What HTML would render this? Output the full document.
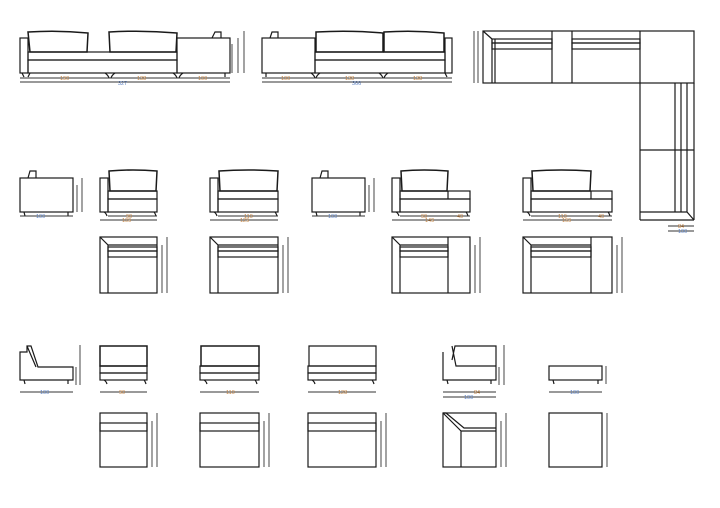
<!DOCTYPE html>
<html><head><meta charset="utf-8"><style>
html,body{margin:0;padding:0;background:#fff;width:720px;height:508px;overflow:hidden}
svg{display:block}
text{font-family:"Liberation Sans",sans-serif;font-size:5.5px;fill:#c08040}
.b{fill:#5a7fc0}
</style></head><body>
<svg width="720" height="508" viewBox="0 0 720 508" xmlns="http://www.w3.org/2000/svg">
<g fill="none" stroke="#1a1a1a" stroke-width="1.2">
<!-- TOP ROW 1 -->
<rect x="20" y="38" width="8" height="35"/>
<path d="M28 32 Q58 30 88 33 L87 52 L30 52 Z" stroke-width="1.5"/>
<rect x="28" y="52" width="149" height="8"/>
<rect x="28" y="60" width="149" height="13"/>
<path d="M109 32 Q143 30 177 33 L176 52 L110 52 Z" stroke-width="1.5"/>
<rect x="177" y="38" width="53" height="35"/>
<path d="M212 38 L215 32 L221 32 L221 38"/>
<path d="M22 73 l2 4 M30 73 l-2 4 M105 73 q3 2 4 5 M115 73 q-3 2 -4 5 M173 73 q3 2 4 5 M183 73 q-3 2 -4 5 M225 73 l0 4"/>
<!-- TOP ROW 2 -->
<rect x="262" y="38" width="53" height="35"/>
<path d="M270 38 L272 32 L278 32 L278 38"/>
<path d="M316 32 Q350 30 383 33 L383 52 L316 52 Z" stroke-width="1.5"/>
<path d="M384 32 Q414 30 444 33 L444 52 L384 52 Z" stroke-width="1.5"/>
<rect x="315" y="52" width="130" height="8"/>
<rect x="315" y="60" width="130" height="13"/>
<rect x="445" y="38" width="7" height="35"/>
<path d="M266 73 l0 4 M311 73 q3 2 4 5 M320 73 q-3 2 -4 5 M379 73 q3 2 4 5 M388 73 q-3 2 -4 5 M445 73 l2 4"/>
<!-- CORNER PLAN -->
<rect x="483" y="31" width="211" height="52"/>
<path d="M552 31 V83 M572 31 V83 M640 31 V220 M694 83 V220 M640 220 H694 M483 31 l9 8 M492 39 V83 M495 39 V83"/>
<rect x="492" y="39" width="60" height="4"/>
<rect x="492" y="43" width="60" height="6"/>
<rect x="572" y="39" width="68" height="4"/>
<rect x="572" y="43" width="68" height="6"/>
<path d="M640 150 H694 M675 83 V212 M681 83 V212 M687 83 V212 M640 212 H687 L694 220"/>
<!-- MID ROW SIDE VIEWS -->
<rect x="20" y="178" width="53" height="34"/>
<path d="M28 178 L30 171 L36 171 L36 178 M24 212 l1 4 M68 212 l0 4"/>
<rect x="312" y="178" width="53" height="34"/>
<path d="M320 178 L322 171 L328 171 L328 178 M316 212 l1 4 M360 212 l0 4"/>
<rect x="100" y="178" width="8" height="34"/>
<path d="M109 171 Q133 169 157 171 L156 191 L110 191 Z" stroke-width="1.5"/>
<rect x="108" y="191" width="49" height="8"/><rect x="108" y="199" width="49" height="13"/>
<path d="M104 212 q2 1 3 4 M154 212 q1 1 2 4"/>
<rect x="210" y="178" width="8" height="34"/>
<path d="M219 171 Q248 169 278 171 L277 191 L220 191 Z" stroke-width="1.5"/>
<rect x="218" y="191" width="60" height="8"/><rect x="218" y="199" width="60" height="13"/>
<path d="M214 212 q2 1 3 4 M275 212 q1 1 2 4"/>
<rect x="392" y="178" width="8" height="34"/>
<path d="M401 171 Q424 169 448 171 L447 191 L402 191 Z" stroke-width="1.5"/>
<rect x="400" y="191" width="70" height="8"/><rect x="400" y="199" width="70" height="13"/>
<path d="M448 191 V199 M396 212 q2 1 3 4 M466 212 q1 1 2 4"/>
<rect x="523" y="178" width="8" height="34"/>
<path d="M532 171 Q561 169 591 171 L590 191 L533 191 Z" stroke-width="1.5"/>
<rect x="531" y="191" width="81" height="8"/><rect x="531" y="199" width="81" height="13"/>
<path d="M591 191 V199 M527 212 q2 1 3 4 M608 212 q1 1 2 4"/>
<!-- MID PLANS -->
<rect x="100" y="237" width="57" height="56"/><path d="M100 237 l8 8 V293 M108 245 H157"/><rect x="108" y="247" width="49" height="4"/><rect x="108" y="251" width="49" height="6"/>
<rect x="210" y="237" width="68" height="56"/><path d="M210 237 l8 8 V293 M218 245 H278"/><rect x="218" y="247" width="60" height="4"/><rect x="218" y="251" width="60" height="6"/>
<rect x="392" y="237" width="78" height="56"/><path d="M392 237 l8 8 V293 M400 245 H448 M448 237 V293"/><rect x="400" y="247" width="48" height="4"/><rect x="400" y="251" width="48" height="6"/>
<rect x="523" y="237" width="89" height="56"/><path d="M523 237 l8 8 V293 M531 245 H591 M591 237 V293"/><rect x="531" y="247" width="60" height="4"/><rect x="531" y="251" width="60" height="6"/>
<!-- BOTTOM ROW -->
<path d="M20 352 V380 H73 V367 H38 L31 346 L27 346 L27 352 Z M27 346 L36 367 M24 380 l1 4 M68 380 l0 4"/>
<path d="M100 346 H147 V366 H100 Z" stroke-width="1.5"/><rect x="100" y="366" width="47" height="7"/><rect x="100" y="373" width="47" height="7"/><path d="M104 380 q2 1 3 4 M144 380 q1 1 2 4"/>
<path d="M201 346 H259 V366 H201 Z" stroke-width="1.5"/><rect x="200" y="366" width="59" height="7"/><rect x="200" y="373" width="59" height="7"/><path d="M204 380 q2 1 3 4 M255 380 q1 1 2 4"/>
<path d="M309 346 H376 V366 H309 Z"/><rect x="308" y="366" width="68" height="7"/><rect x="308" y="373" width="68" height="7"/><path d="M312 380 q2 1 3 4 M372 380 q1 1 2 4"/>
<path d="M443 352 V380 H496 V346 H455 L452 360 M452 346 L456 366 H496 M447 380 l1 4 M491 380 l0 4"/>
<rect x="549" y="366" width="53" height="14"/><path d="M553 380 l1 4 M598 380 l0 4"/>
<!-- BOTTOM PLANS -->
<rect x="100" y="413" width="47" height="54"/><rect x="100" y="423" width="47" height="8"/>
<rect x="200" y="413" width="59" height="54"/><rect x="200" y="423" width="59" height="8"/>
<rect x="308" y="413" width="68" height="54"/><rect x="308" y="423" width="68" height="8"/>
<rect x="443" y="413" width="53" height="54"/><path d="M443 413 L461 431 V467 M461 431 H496 M443 413 l3 0 L464 428 H496"/>
<rect x="549" y="413" width="53" height="54"/>
</g>
<!-- DIMENSION LINES -->
<g stroke="#333" stroke-width="0.9">
<path d="M20 78 H230 M20 82 H230 M232 44 V73 M238 38 V73 M244 31 V73"/>
<path d="M262 78 H452 M262 82 H452"/>
<path d="M474 31 V83 M478 31 V83 M668 226 H694 M668 231 H694"/>
<path d="M20 216 H73 M77 185 V212 M82 178 V212 M312 216 H365 M369 185 V212 M374 178 V212"/>
<path d="M108 216 H157 M100 220 H157 M218 216 H278 M210 220 H278 M400 216 H470 M392 220 H470 M531 216 H612 M523 220 H612"/>
<path d="M162 245 V293 M167 237 V293 M283 245 V293 M288 237 V293 M475 245 V293 M480 237 V293 M617 245 V293 M622 237 V293"/>
<path d="M20 392 H73 M76 367 V385 M80 345 V385 M100 392 H147 M200 392 H259 M308 392 H376 M443 392 H496 M443 397 H496 M499 367 V385 M504 345 V385 M549 392 H602 M606 366 V384"/>
<path d="M152 421 V467 M157 413 V467 M264 421 V467 M269 413 V467 M381 421 V467 M386 413 V467 M501 421 V467 M506 413 V467 M607 413 V467"/>
</g>
<g>
<text x="60" y="80">190</text><text x="137" y="80">138</text><text x="198" y="80">100</text><text x="118" y="85" class="b">327</text>
<text x="281" y="80">100</text><text x="345" y="80">138</text><text x="413" y="80">138</text><text x="352" y="85" class="b">366</text>
<text x="36" y="218" class="b">100</text><text x="328" y="218" class="b">100</text>
<text x="126" y="218">90</text><text x="122" y="222">109</text>
<text x="244" y="218">110</text><text x="240" y="222">129</text>
<text x="421" y="218">90</text><text x="457" y="218">40</text><text x="425" y="222">149</text>
<text x="558" y="218">110</text><text x="598" y="218">40</text><text x="562" y="222">169</text>
<text x="678" y="228">84</text><text x="678" y="233" class="b">100</text>
<text x="40" y="394" class="b">100</text><text x="119" y="394">90</text><text x="226" y="394">110</text><text x="338" y="394">128</text>
<text x="474" y="394">84</text><text x="464" y="399" class="b">100</text><text x="570" y="394" class="b">100</text>
</g>
</svg>
</body></html>
